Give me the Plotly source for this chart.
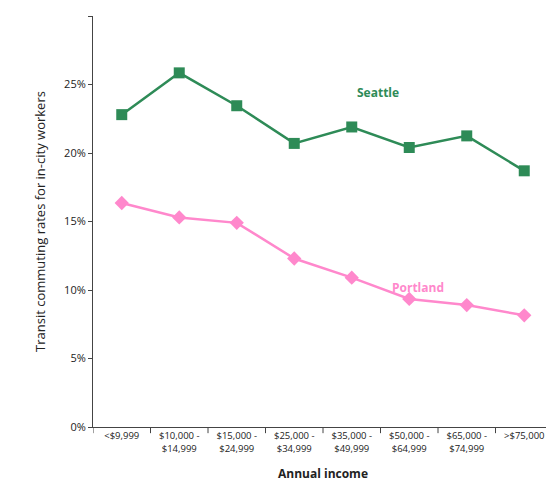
import plotly.graph_objects as go

categories = ["<$9,999", "$10,000 -<br>$14,999", "$15,000 -<br>$24,999", "$25,000 -<br>$34,999",
              "$35,000 -<br>$49,999", "$50,000 -<br>$64,999", "$65,000 -<br>$74,999", ">$75,000"]
seattle = [22.8, 25.85, 23.45, 20.7, 21.9, 20.4, 21.25, 18.7]
portland = [16.35, 15.3, 14.9, 12.3, 10.9, 9.35, 8.9, 8.15]

green = "#2e8b57"
pink = "#ff88cc"
xs = list(range(len(categories)))

fig = go.Figure()
fig.add_trace(go.Scatter(x=xs, y=seattle, mode="lines+markers",
                         line=dict(color=green, width=2.5),
                         marker=dict(symbol="square", size=11, color=green)))
fig.add_trace(go.Scatter(x=xs, y=portland, mode="lines+markers",
                         line=dict(color=pink, width=2.5),
                         marker=dict(symbol="diamond", size=11, color=pink)))
fig.add_annotation(x=4.45, y=24.4, text="<b>Seattle</b>", showarrow=False,
                   font=dict(color=green, size=12))
fig.add_annotation(x=5.15, y=10.2, text="<b>Portland</b>", showarrow=False,
                   font=dict(color=pink, size=12))

fig.update_layout(
    width=554, height=504, margin=dict(l=85, r=9, t=8, b=85),
    plot_bgcolor="white", paper_bgcolor="white", showlegend=False,
    font=dict(family="Open Sans", color="#222", size=10),
)
fig.update_xaxes(range=[-0.5, 7.5], tickvals=xs, ticktext=categories,
                 showline=True, linecolor="#444", showgrid=False,
                 ticks="", tickfont=dict(size=9.5),
                 title=dict(text="<b>Annual income</b>", font=dict(size=12)))
for i in range(9):
    fig.add_shape(type="line", xref="x", yref="paper", x0=i - 0.5, x1=i - 0.5,
                  y0=0, y1=-0.015, line=dict(color="#444", width=1))
fig.update_yaxes(range=[0, 30], tickvals=[0, 5, 10, 15, 20, 25, 30],
                 ticktext=["0%", "5%", "10%", "15%", "20%", "25%", "30%"],
                 showline=True, linecolor="#444", showgrid=False, zeroline=False,
                 ticks="outside", ticklen=4, tickcolor="#444", tickfont=dict(size=11),
                 title=dict(text="Transit commuting rates for in-city workers", font=dict(size=13)))
fig.write_html("out.html")
